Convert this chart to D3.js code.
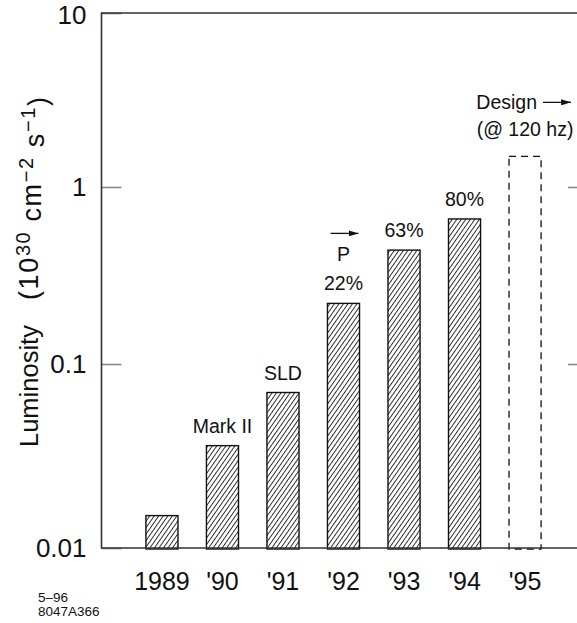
<!DOCTYPE html>
<html>
<head>
<meta charset="utf-8">
<script src="https://cdn.jsdelivr.net/npm/d3@7"></script>
<style>
  html, body { margin: 0; padding: 0; background: #fff; }
  svg { display: block; }
  text { font-family: "Liberation Sans", Arial, Helvetica, sans-serif; fill: #111; }
</style>
</head>
<body>
<svg id="chart" width="577" height="623"></svg>
<script>
// Luminosity by running year
const years = ["1989", "1990", "1991", "1992", "1993", "1994", "1995"];
const yearLabels = ["1989", "'90", "'91", "'92", "'93", "'94", "'95"];
const luminosity = [0.015, 0.036, 0.07, 0.22, 0.44, 0.66, 1.5];
const isDesign = [false, false, false, false, false, false, true];
const barNotes = ["", "Mark II", "SLD", "22%", "63%", "80%", "(@ 120 hz)"];
const yTicks = [0.01, 0.1, 1, 10];
const yTickLabels = ["0.01", "0.1", "1", "10"];

const svg = d3.select("#chart");
const plotLeft = 101.5, plotRight = 577, plotTop = 13, plotBottom = 548;

// log axis, one segment per decade
const y = d3.scaleLog()
  .domain(yTicks)
  .range([plotBottom, 364, 187, plotTop]);

const x = d3.scaleBand()
  .domain(years)
  .range([131.7, 555.3])
  .paddingInner(0.47)
  .paddingOuter(0.235);

// diagonal hatching
const defs = svg.append("defs");
defs.append("pattern")
  .attr("id", "hatch")
  .attr("patternUnits", "userSpaceOnUse")
  .attr("width", 3.7)
  .attr("height", 10)
  .attr("patternTransform", "rotate(35)")
  .append("line")
  .attr("x1", 0.5).attr("y1", 0)
  .attr("x2", 0.5).attr("y2", 10)
  .attr("stroke", "#111")
  .attr("stroke-width", 0.9);

// left axis: inward ticks, labels outside
const yAxis = svg.append("g")
  .attr("transform", `translate(${plotLeft},0)`)
  .call(d3.axisLeft(y)
    .tickValues(yTicks)
    .tickSize(-20)
    .tickPadding(15)
    .tickFormat((d, i) => yTickLabels[i]));
yAxis.select(".domain").remove();
yAxis.selectAll(".tick line").attr("stroke", "#888").attr("stroke-width", 1.6);
yAxis.selectAll(".tick text")
  .style("font-size", "26px")
  .attr("fill", "#111")
  .attr("dy", d => d === 10 ? "0.42em" : "0.32em");

// right side ticks
const yAxisR = svg.append("g")
  .attr("transform", `translate(${plotRight},0)`)
  .call(d3.axisRight(y).tickValues([0.1, 1]).tickSize(-9).tickFormat(""));
yAxisR.select(".domain").remove();
yAxisR.selectAll(".tick line").attr("stroke", "#888").attr("stroke-width", 1.6);

// bars
svg.append("g").selectAll("rect")
  .data(years)
  .join("rect")
  .attr("x", d => x(d))
  .attr("width", x.bandwidth())
  .attr("y", (d, i) => y(luminosity[i]))
  .attr("height", (d, i) => plotBottom + 1 - y(luminosity[i]))
  .attr("fill", (d, i) => isDesign[i] ? "none" : "url(#hatch)")
  .attr("stroke", "#111")
  .attr("stroke-width", (d, i) => isDesign[i] ? 1.3 : 1.4)
  .attr("stroke-dasharray", (d, i) => isDesign[i] ? "7,5" : null);

// frame: left, top, bottom
const frame = svg.append("g").attr("stroke", "#333").attr("stroke-width", 1.6).attr("fill", "none");
frame.append("path").attr("d", `M${plotRight},${plotTop}H${plotLeft}V${plotBottom}H${plotRight}`);

// x axis labels
const xAxis = svg.append("g")
  .attr("transform", `translate(0,${plotBottom})`)
  .call(d3.axisBottom(x).tickSize(0).tickPadding(24).tickFormat((d, i) => yearLabels[i]));
xAxis.select(".domain").remove();
xAxis.selectAll(".tick text").style("font-size", "25px").attr("fill", "#111");

// notes above bars
const cx = d => x(d) + x.bandwidth() / 2;
svg.append("g").selectAll("text")
  .data(years)
  .join("text")
  .attr("x", d => cx(d))
  .attr("y", (d, i) => y(luminosity[i]) - (isDesign[i] ? 20 : 13))
  .attr("text-anchor", "middle")
  .style("font-size", "19.5px")
  .text((d, i) => barNotes[i]);

// arrow head
defs.append("marker")
  .attr("id", "head")
  .attr("viewBox", "0 0 10 6")
  .attr("refX", 10).attr("refY", 3)
  .attr("markerWidth", 10).attr("markerHeight", 6)
  .attr("markerUnits", "userSpaceOnUse")
  .attr("orient", "auto")
  .append("path").attr("d", "M0,0L10,3L0,6Z").attr("fill", "#111");
function arrow(x1, x2, yy) {
  svg.append("line")
    .attr("x1", x1).attr("x2", x2).attr("y1", yy).attr("y2", yy)
    .attr("stroke", "#111").attr("stroke-width", 1.3)
    .attr("marker-end", "url(#head)");
}

// polarization marker on 1992
const c92 = cx("1992");
const top92 = y(luminosity[3]);
svg.append("text")
  .attr("x", c92).attr("y", top92 - 42)
  .attr("text-anchor", "middle")
  .style("font-size", "19.5px")
  .text("P");
arrow(c92 - 13, c92 + 15, top92 - 70);

// design goal heading
const c95 = cx("1995");
const top95 = y(luminosity[6]);
svg.append("text")
  .attr("x", c95 + 12).attr("y", top95 - 47)
  .attr("text-anchor", "end")
  .style("font-size", "19.5px")
  .text("Design");
arrow(c95 + 18, c95 + 46, top95 - 54);

// y axis title: quantity, then units
svg.append("text")
  .attr("transform", `translate(38,447) rotate(-90)`)
  .attr("text-anchor", "start")
  .style("font-size", "25.5px")
  .text("Luminosity");
const yt = svg.append("text")
  .attr("transform", `translate(38,300) rotate(-90)`)
  .attr("text-anchor", "start")
  .attr("textLength", 203)
  .attr("lengthAdjust", "spacing")
  .style("font-size", "27px");
yt.append("tspan").text("(10");
yt.append("tspan").attr("dy", "-0.42em").style("font-size", "20px").text("30");
yt.append("tspan").attr("dy", "0.42em").text("\u00a0cm");
yt.append("tspan").attr("dy", "-0.42em").style("font-size", "20px").text("\u22122");
yt.append("tspan").attr("dy", "0.42em").text("\u00a0s");
yt.append("tspan").attr("dy", "-0.42em").style("font-size", "20px").text("\u22121");
yt.append("tspan").attr("dy", "0.42em").text(")");

// figure id
const idg = svg.append("g").style("font-size", "13.5px");
idg.append("text").attr("x", 38).attr("y", 602).text("5\u201396");
idg.append("text").attr("x", 38).attr("y", 616).text("8047A366");
</script>
</body>
</html>
